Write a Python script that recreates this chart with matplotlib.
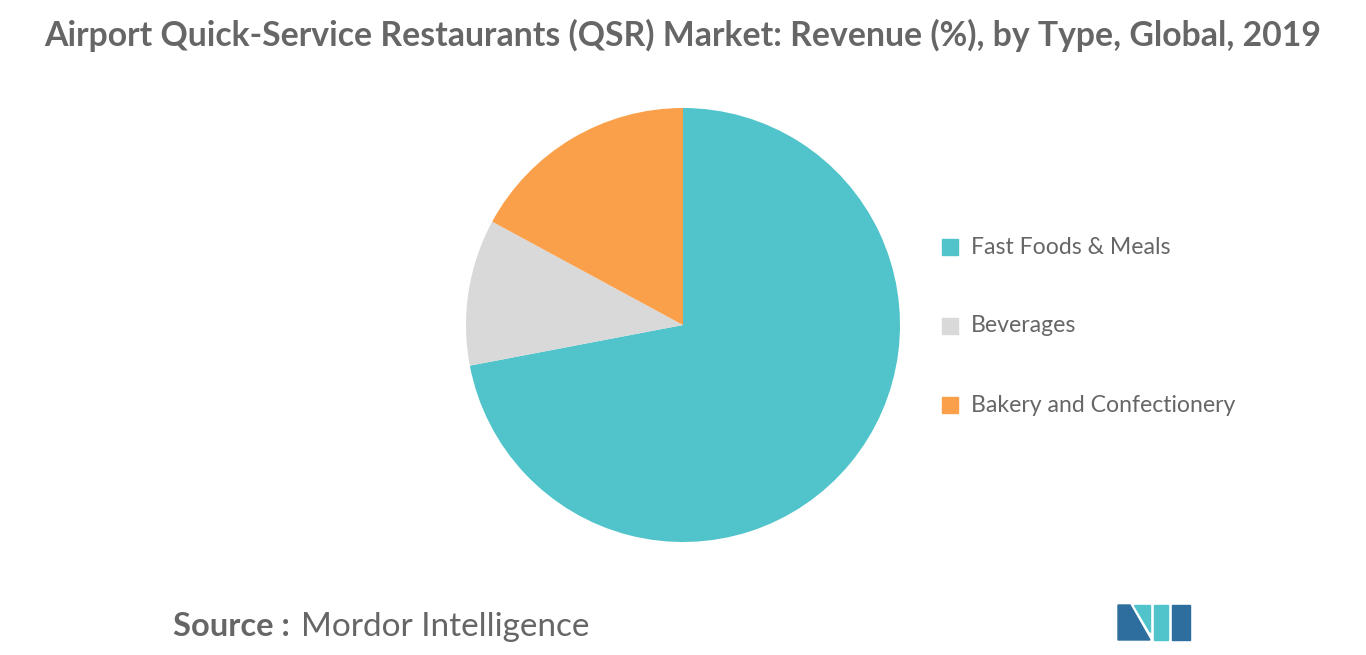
import matplotlib
matplotlib.use("Agg")
import matplotlib.pyplot as plt
from matplotlib.patches import Polygon

labels = ["Fast Foods & Meals", "Beverages", "Bakery and Confectionery"]
values = [72.0, 10.9, 17.1]
colors = ["#50C4CA", "#D9D9D9", "#FBA04A"]

plt.rcParams['font.family'] = ['Lato', 'DejaVu Sans']
fig = plt.figure(figsize=(13.66, 6.55), dpi=100)
ax = fig.add_axes([683/1366 - 217/1366, 1 - (325+217)/655, 434/1366, 434/655])
ax.pie(values, colors=colors, startangle=90, counterclock=False, radius=1)
ax.set_xlim(-1, 1); ax.set_ylim(-1, 1); ax.set_aspect('equal')

fig.text(683/1366, 1 - 35/655, "Airport Quick-Service Restaurants (QSR) Market: Revenue (%), by Type, Global, 2019",
         ha='center', va='center', fontsize=24.3, fontweight='bold', color='#666666')

for i, (lab, c) in enumerate(zip(labels, colors)):
    y = 1 - (247 + 79*i)/655
    fig.patches.append(plt.Rectangle((942/1366, y - 8/655), 16/1366, 16/655, transform=fig.transFigure, color=c))
    fig.text(971/1366, y, lab, ha='left', va='center', fontsize=16.6, color='#666666')

fig.text(173/1366, 1 - 627/655, "Source :", ha='left', va='center', fontsize=23.5, fontweight='bold', color='#666666')
fig.text(301/1366, 1 - 627/655, "Mordor Intelligence", ha='left', va='center', fontsize=24, color='#666666')

def P(pts, c):
    fig.patches.append(Polygon([(x/1366, 1 - y/655) for x, y in pts], closed=True, transform=fig.transFigure, color=c))
P([(1118, 605), (1130, 605), (1150, 640), (1118, 640)], "#2E6E9E")
P([(1134, 605), (1150, 605), (1150, 632)], "#50C4CA")
P([(1154, 605), (1168, 605), (1168, 640), (1154, 640)], "#50C4CA")
P([(1172, 605), (1190, 605), (1190, 640), (1172, 640)], "#2E6E9E")
fig.savefig("out.png", dpi=100)
